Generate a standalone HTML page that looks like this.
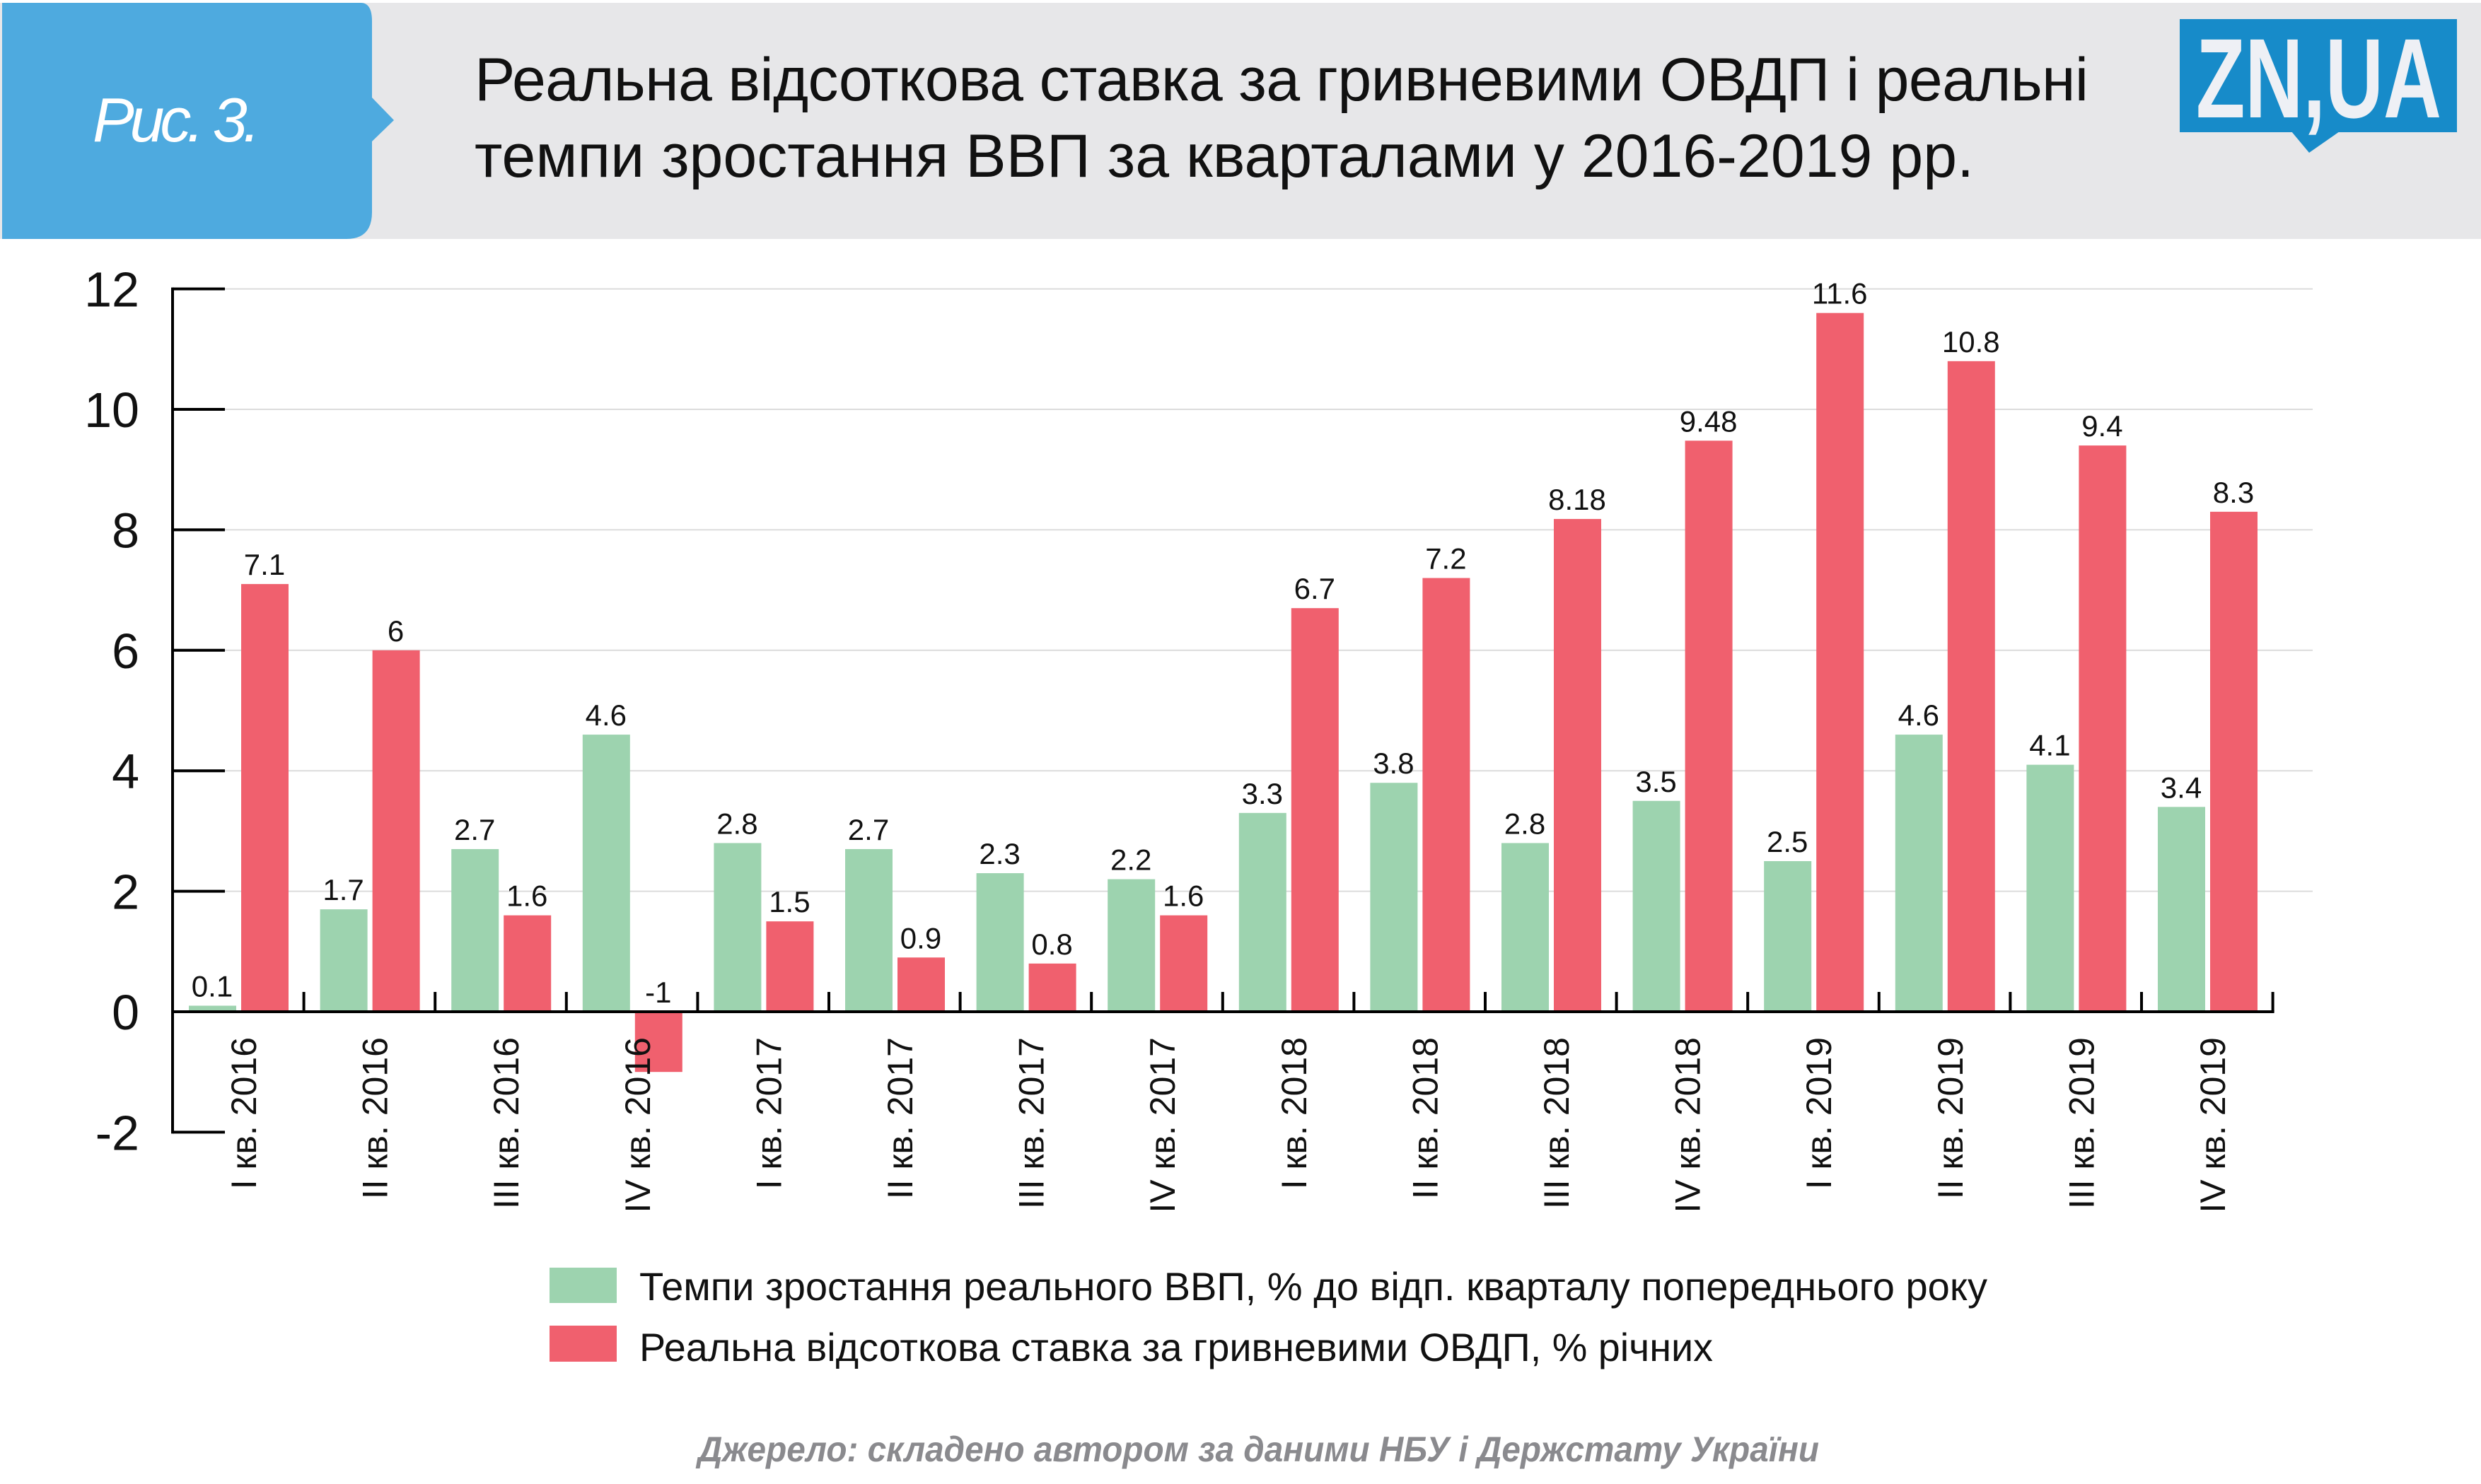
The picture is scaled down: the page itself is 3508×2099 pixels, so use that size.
<!DOCTYPE html>
<html><head><meta charset="utf-8"><style>
html,body{margin:0;padding:0;background:#fff;}
svg{display:block;font-family:"Liberation Sans","DejaVu Sans",sans-serif;}
</style></head><body>
<svg id="chart" width="3508" height="2099" viewBox="0 0 3508 2099" xmlns="http://www.w3.org/2000/svg">
<rect x="0" y="4" width="3508" height="334" fill="#e7e7e9"/>
<path d="M3 4 H510 Q526 4 526 30 V138 L557 170 L526 200 V300 Q526 338 490 338 H3 Z" fill="#4eaadf"/>
<text x="131" y="200" font-size="88" font-style="italic" fill="#fff" textLength="237">Рис. 3.</text>
<text x="671" y="142" font-size="86" fill="#111" textLength="2282">Реальна відсоткова ставка за гривневими ОВДП і реальні</text>
<text x="671" y="250" font-size="86" fill="#111" textLength="2120">темпи зростання ВВП за кварталами у 2016-2019 рр.</text>
<g>
<rect x="3082" y="27" width="392" height="160" fill="#178bc9"/>
<path d="M3240 186 L3308 186 L3265 216 Z" fill="#178bc9"/>
<text x="3105" y="166" font-size="160" font-weight="bold" fill="#eef0f5" textLength="347" lengthAdjust="spacingAndGlyphs">ZN,UA</text>
</g>
<g id="plot"></g>
<g>
<rect x="777" y="1793" width="95" height="50" fill="#9dd3af"/>
<text x="904" y="1839" font-size="56" fill="#111" textLength="1906" lengthAdjust="spacingAndGlyphs">Темпи зростання реального ВВП, % до відп. кварталу попереднього року</text>
<rect x="777" y="1875" width="95" height="51" fill="#f0606e"/>
<text x="904" y="1925" font-size="56" fill="#111" textLength="1518" lengthAdjust="spacingAndGlyphs">Реальна відсоткова ставка за гривневими ОВДП, % річних</text>
</g>
<text x="987" y="2067" font-size="50" font-weight="bold" font-style="italic" fill="#8a8a8e" textLength="1585" lengthAdjust="spacingAndGlyphs">Джерело: складено автором за даними НБУ і Держстату України</text>
</svg>
<script>
const categories = ["I кв. 2016","II кв. 2016","III кв. 2016","IV кв. 2016","I кв. 2017","II кв. 2017","III кв. 2017","IV кв. 2017","I кв. 2018","II кв. 2018","III кв. 2018","IV кв. 2018","I кв. 2019","II кв. 2019","III кв. 2019","IV кв. 2019"];
const gdpGrowth = [0.1,1.7,2.7,4.6,2.8,2.7,2.3,2.2,3.3,3.8,2.8,3.5,2.5,4.6,4.1,3.4];
const bondRate = [7.1,6,1.6,-1,1.5,0.9,0.8,1.6,6.7,7.2,8.18,9.48,11.6,10.8,9.4,8.3];
const yTicks = [-2,0,2,4,6,8,10,12];
const yTickLabels = ["-2","0","2","4","6","8","10","12"];

const NS = "http://www.w3.org/2000/svg";
const plot = document.getElementById('plot');
const X0 = 244, GW = 185.6, Y0 = 1431, UNIT = 85.2;
function y(v){ return Y0 - v*UNIT; }
function gx(i){ return X0 + i*GW; }
function mk(tag, attrs, parent){
  const e = document.createElementNS(NS, tag);
  for (const k in attrs) e.setAttribute(k, attrs[k]);
  (parent||plot).appendChild(e);
  return e;
}
yTicks.forEach((t, k) => {
  if (t > 0) {
    const g = mk('line', {x1: X0+74, x2: 3270, y1: y(t), y2: y(t), stroke: '#dcdcdc', 'stroke-width': 2});
    
    
  }
  const tk = mk('line', {x1: X0, x2: X0+74, y1: y(t), y2: y(t), stroke: '#000', 'stroke-width': 4});
  
  
  const lb = mk('text', {x: 197, y: y(t)+25, 'font-size': 70, 'text-anchor': 'end', fill: '#111'});
  lb.textContent = yTickLabels[k];
  
  
});
categories.forEach((c, i) => {
  const g0 = gx(i);
  const gv = gdpGrowth[i], rv = bondRate[i];
  const gb = mk('rect', {x: g0+23, y: Math.min(y(gv), Y0), width: 67, height: Math.abs(gv*UNIT), fill: '#9dd3af'});
  
  
  const rb = mk('rect', {x: g0+97, y: Math.min(y(rv), Y0), width: 67, height: Math.abs(rv*UNIT), fill: '#f0606e'});
  
  
  const gl = mk('text', {x: g0+56, y: y(Math.max(gv,0))-13, 'font-size': 42, 'text-anchor': 'middle', fill: '#111'});
  gl.textContent = String(gv);
  
  
  const rl = mk('text', {x: g0+130, y: y(Math.max(rv,0))-13, 'font-size': 42, 'text-anchor': 'middle', fill: '#111'});
  rl.textContent = String(rv);
  
  
  const xl = mk('text', {transform: 'translate(' + (g0+118) + ',1467) rotate(-90)', 'font-size': 50, 'text-anchor': 'end', fill: '#111'});
  xl.textContent = c;
  
  
  const tk = mk('line', {x1: gx(i+1), x2: gx(i+1), y1: Y0, y2: Y0-28, stroke: '#000', 'stroke-width': 4});
  
  
});
const ya = mk('line', {x1: X0, x2: X0, y1: y(12)-2, y2: y(-2)+2, stroke: '#000', 'stroke-width': 4});


const xa = mk('line', {x1: X0, x2: gx(categories.length)+2, y1: Y0, y2: Y0, stroke: '#000', 'stroke-width': 4});


</script>
</body></html>
